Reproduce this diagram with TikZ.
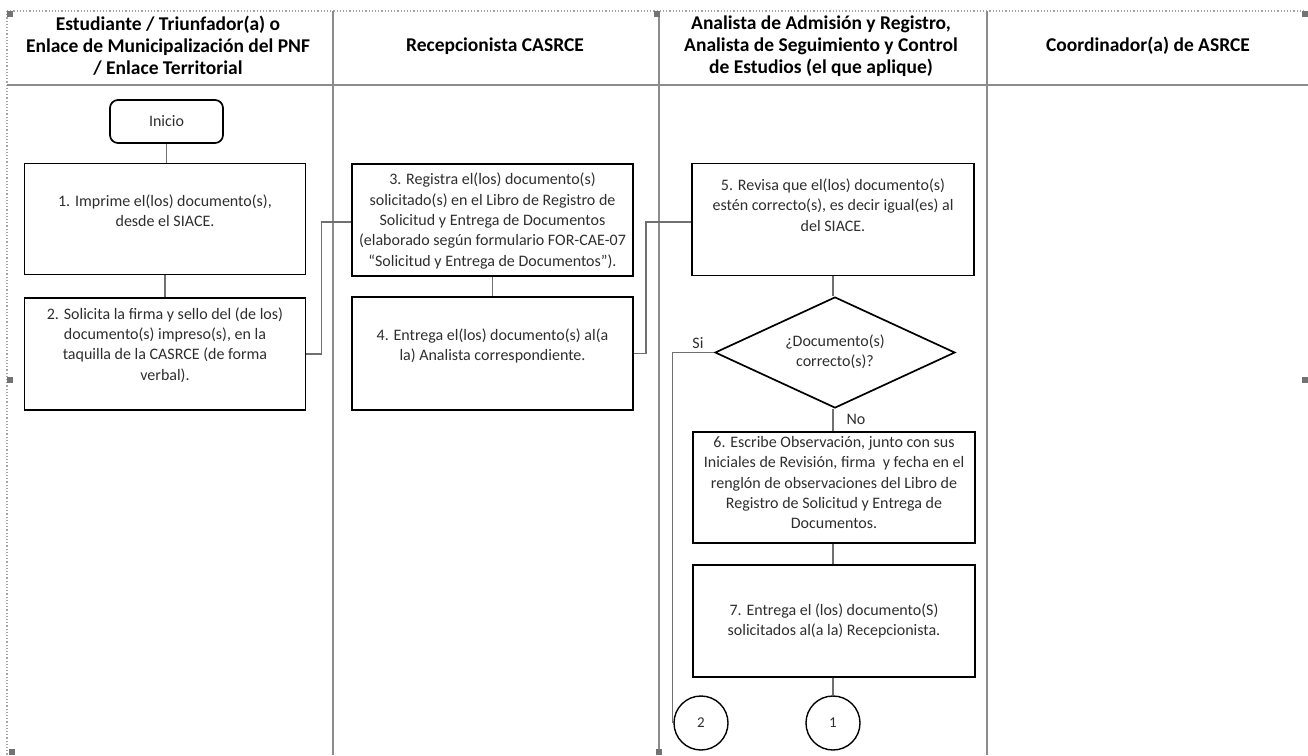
\documentclass[tikz,border=0pt]{standalone}
\usepackage{fontspec}
\setmainfont{Carlito}
\usetikzlibrary{shapes.geometric}
\definecolor{laneline}{HTML}{8C8C8C}
\definecolor{wire}{HTML}{707070}
\definecolor{ink}{HTML}{2E2E2E}
\tikzset{
  lane/.style={draw=laneline, line width=2.4pt},
  frame/.style={draw=black!35, line width=1.2pt, dotted},
  handle/.style={fill=black!55, draw=none, minimum size=6pt, inner sep=0pt, rectangle},
  head/.style={font=\fontsize{19.5}{22}\selectfont\bfseries, align=center, text=black},
  stepbox/.style={draw=black, line width=1.7pt, rectangle, inner sep=0pt},
  boxtext/.style={font=\fontsize{16}{20.4}\selectfont, align=center, text=ink, inner sep=0pt},
  wireline/.style={draw=wire, line width=1.4pt},
  conn/.style={draw=black, line width=1.4pt, circle, minimum size=54pt, inner sep=0pt,
               font=\fontsize{15}{17}\selectfont, text=ink},
}
\begin{document}
\begin{tikzpicture}[x=1pt, y=-1pt]
\useasboundingbox (0,0) rectangle (1308,755);

% frame of the sheet
\draw[frame] (7,11) -- (1305,11);
\draw[frame] (7,11) -- (7,755);

% swimlane grid
\draw[lane, line width=2.6pt] (7,85) -- (1308,85);
\draw[lane] (333,11) -- (333,755);
\draw[lane] (659,11) -- (659,755);
\draw[lane] (987,11) -- (987,755);

% lane titles
\node[head] (h1) at (168,46) {Estudiante / Triunfador(a) o\\Enlace de Municipalización del PNF\\/ Enlace Territorial};
\node[head] (h2) at (495,46) {Recepcionista CASRCE};
\node[head] (h3) at (821,46) {Analista de Admisión y Registro,\\Analista de Seguimiento y Control\\de Estudios (el que aplique)};
\node[head] (h4) at (1148,46) {Coordinador(a) de ASRCE};

% lane 1
\node[stepbox, rounded corners=8pt, minimum width=113pt, minimum height=43pt] (ini) at (166.5,121.5) {};
\node[boxtext] (init) at (166.5,121.5) {Inicio};
\node[stepbox, minimum width=281pt, minimum height=111pt] (b1) at (165,219) {};
\node[boxtext] (b1t) at (165,210.5) {1. Imprime el(los) documento(s),\\desde el SIACE.};
\node[stepbox, minimum width=281pt, minimum height=112pt] (b2) at (165,354) {};
\node[boxtext] (b2t) at (165,345) {2. Solicita la firma y sello del (de los)\\documento(s) impreso(s), en la\\taquilla de la CASRCE (de forma\\verbal).};

% lane 2
\node[stepbox, minimum width=281pt, minimum height=112pt] (b3) at (492.5,220) {};
\node[boxtext] (b3t) at (492.5,221) {3. Registra el(los) documento(s)\\solicitado(s) en el Libro de Registro de\\Solicitud y Entrega de Documentos\\(elaborado según formulario FOR-CAE-07\\“Solicitud y Entrega de Documentos”).};
\node[stepbox, minimum width=281pt, minimum height=113pt] (b4) at (492.5,353.5) {};
\node[boxtext] (b4t) at (492.5,346) {4. Entrega el(los) documento(s) al(a\\la) Analista correspondiente.};

% lane 3
\node[stepbox, minimum width=282pt, minimum height=112pt] (b5) at (833,219.5) {};
\node[boxtext] (b5t) at (833,205) {5. Revisa que el(los) documento(s)\\estén correcto(s), es decir igual(es) al\\del SIACE.};
\node[stepbox, diamond, aspect=2.16, minimum width=240pt, minimum height=111pt] (dec) at (835,352.5) {};
\node[boxtext] (dect) at (835,352) {¿Documento(s)\\correcto(s)?};
\node[stepbox, minimum width=282pt, minimum height=111pt] (b6) at (834,487.5) {};
\node[boxtext] (b6t) at (834,482.5) {6. Escribe Observación, junto con sus\\Iniciales de Revisión, firma\ \ y fecha en el\\renglón de observaciones del Libro de\\Registro de Solicitud y Entrega de\\Documentos.};
\node[stepbox, minimum width=282pt, minimum height=112pt] (b7) at (834,621) {};
\node[boxtext] (b7t) at (834,621) {7. Entrega el (los) documento(S)\\solicitados al(a la) Recepcionista.};
\node[conn] (c2) at (701,723) {2};
\node[conn] (c1) at (833,723) {1};

% flow lines
\draw[wireline] (ini.south) -- (b1.north -| ini.south);
\draw[wireline] (b1.south) -- (b2.north);
\draw[wireline] (b2.east) -- ++(15,0) |- ([yshift=-2pt]b3.west);
\draw[wireline] (b3.south) -- (b4.north);
\draw[wireline] (b4.east) -- ++(12,0) |- ([yshift=-2.5pt]b5.west);
\draw[wireline] (b5.south) -- (b5.south |- dec.north);
\draw[wireline] (dec.south -| b5.south) -- (b6.north -| b5.south);
\draw[wireline] (dec.west) -| ([xshift=-1pt]c2.west);
\draw[wireline] (b6.south -| b5.south) -- (b7.north -| b5.south);
\draw[wireline] (b7.south -| c1.north) -- (c1.north);

% branch labels
\node[boxtext] (lsi) at (698,343) {Si};
\node[boxtext] (lno) at (856,419) {No};

% selection handles around the sheet
\node[handle] (hd1) at (10,14) {};
\node[handle] (hd2) at (657,14) {};
\node[handle] (hd3) at (1305,14) {};
\node[handle] (hd4) at (10,380) {};
\node[handle] (hd5) at (1305,380) {};
\node[handle] (hd6) at (12,752) {};
\node[handle] (hd7) at (659,752) {};
\end{tikzpicture}
\end{document}
